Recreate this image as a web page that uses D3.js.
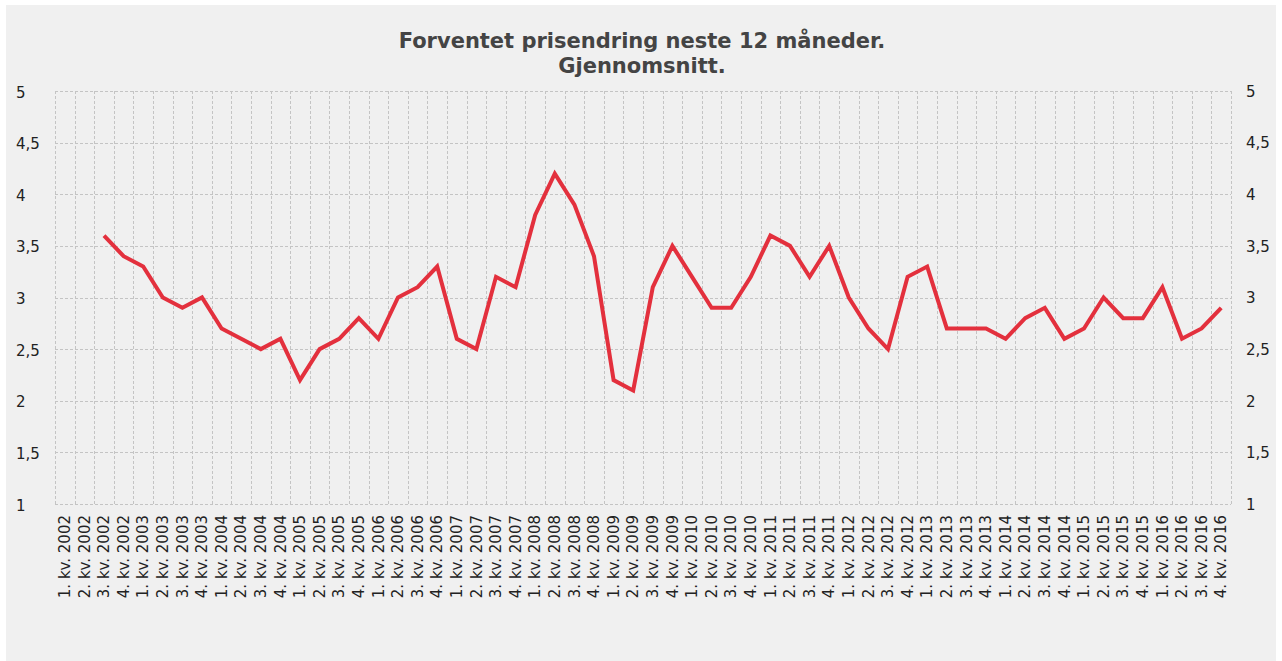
<!DOCTYPE html>
<html>

<head>
    <meta charset="utf-8" />
    <script src="https://d3js.org/d3.v7.min.js"></script>
    <style>
        body { margin: 0; background: #fff; }
        .grid line { stroke: #c4c4c4; stroke-width: 1px; stroke-dasharray: 3,2; shape-rendering: crispEdges; }
        .axis text { font: 15px "DejaVu Sans", Verdana, sans-serif; fill: #222; }
        .title { font: bold 21px "DejaVu Sans", Verdana, sans-serif; fill: #444; }
    </style>
</head>

<body>
    <svg id="chart" width="1282" height="661"></svg>

    <script>
        // quarters 1. kv. 2002 .. 4. kv. 2016
        const years = d3.range(2002, 2017);
        const quarters = [1, 2, 3, 4];
        const categories = [];
        years.forEach(y => quarters.forEach(q => categories.push(q + ". kv. " + y)));

        // expected price change next 12 months (average), null = no data
        const values = [
            null, null, 3.6, 3.4,
            3.3, 3.0, 2.9, 3.0,
            2.7, 2.6, 2.5, 2.6,
            2.2, 2.5, 2.6, 2.8,
            2.6, 3.0, 3.1, 3.3,
            2.6, 2.5, 3.2, 3.1,
            3.8, 4.2, 3.9, 3.4,
            2.2, 2.1, 3.1, 3.5,
            3.2, 2.9, 2.9, 3.2,
            3.6, 3.5, 3.2, 3.5,
            3.0, 2.7, 2.5, 3.2,
            3.3, 2.7, 2.7, 2.7,
            2.6, 2.8, 2.9, 2.6,
            2.7, 3.0, 2.8, 2.8,
            3.1, 2.6, 2.7, 2.9
        ];

        const yTicks = [1, 1.5, 2, 2.5, 3, 3.5, 4, 4.5, 5];
        const titleLines = ["Forventet prisendring neste 12 måneder.", "Gjennomsnitt."];

        const svg = d3.select("#chart");
        const plotLeft = 55, plotRight = 1231, plotTop = 91, plotBottom = 504;

        // panel
        svg.append("rect")
            .attr("x", 6).attr("y", 5)
            .attr("width", 1270).attr("height", 656)
            .attr("fill", "#f0f0f0");

        const x = d3.scaleBand().domain(categories).range([plotLeft, plotRight]);
        const y = d3.scaleLinear().domain([1, 5]).range([plotBottom, plotTop]);
        const fmt = d => String(d).replace(".", ",");

        // grid
        const grid = svg.append("g").attr("class", "grid");
        grid.selectAll("line.v")
            .data(categories.concat([null]))
            .enter().append("line")
            .attr("class", "v")
            .attr("x1", (d, i) => Math.round(plotLeft + i * x.step()) + 0.5)
            .attr("x2", (d, i) => Math.round(plotLeft + i * x.step()) + 0.5)
            .attr("y1", plotTop).attr("y2", plotBottom);
        grid.selectAll("line.h")
            .data(yTicks)
            .enter().append("line")
            .attr("class", "h")
            .attr("x1", plotLeft).attr("x2", plotRight)
            .attr("y1", d => Math.round(y(d)) + 0.5)
            .attr("y2", d => Math.round(y(d)) + 0.5);

        // y axes, left and right
        const yLeft = svg.append("g").attr("class", "axis")
            .call(d3.axisLeft(y).tickValues(yTicks).tickFormat(fmt).tickSize(0));
        yLeft.select(".domain").remove();
        yLeft.selectAll("text").attr("x", 16).attr("text-anchor", "start").attr("dy", "0.4em");

        const yRight = svg.append("g").attr("class", "axis")
            .attr("transform", `translate(${plotRight},0)`)
            .call(d3.axisRight(y).tickValues(yTicks).tickFormat(fmt).tickSize(0));
        yRight.select(".domain").remove();
        yRight.selectAll("text").attr("x", 15).attr("dy", "0.35em");

        // x axis
        const xAxis = svg.append("g").attr("class", "axis")
            .attr("transform", `translate(0,${plotBottom})`)
            .call(d3.axisBottom(x).tickSize(0));
        xAxis.select(".domain").remove();
        xAxis.selectAll("text")
            .attr("transform", "rotate(-90)")
            .attr("text-anchor", "end")
            .attr("x", -11).attr("y", 0)
            .attr("dy", "0.35em");

        // line
        const line = d3.line()
            .defined(d => d != null)
            .x((d, i) => x(categories[i]) + x.bandwidth() / 2)
            .y(d => y(d));
        svg.append("path")
            .datum(values)
            .attr("fill", "none")
            .attr("stroke", "#e3303d")
            .attr("stroke-width", 4)
            .attr("stroke-linejoin", "miter")
            .attr("d", line);

        // title
        svg.append("text")
            .attr("class", "title")
            .attr("text-anchor", "middle")
            .selectAll("tspan")
            .data(titleLines)
            .enter().append("tspan")
            .attr("x", 642)
            .attr("y", (d, i) => 48 + i * 25)
            .text(d => d);
    </script>
</body>

</html>
